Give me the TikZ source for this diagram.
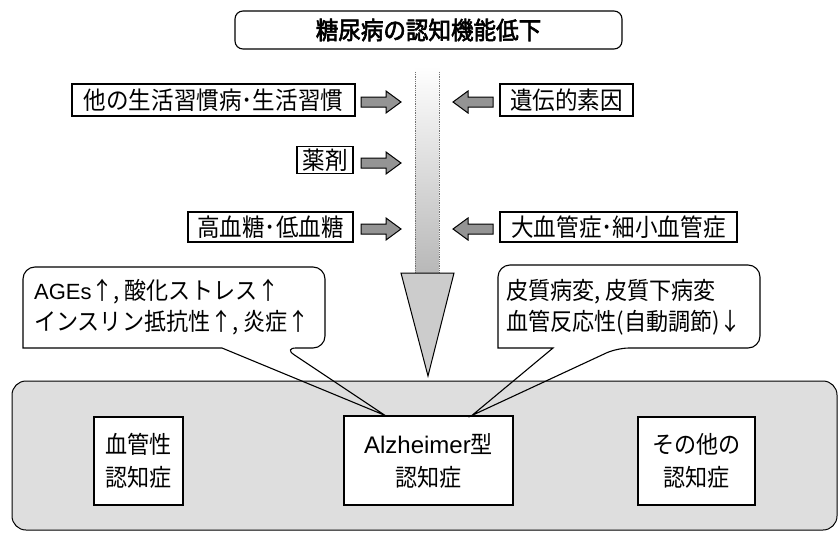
\documentclass[tikz,border=0pt]{standalone}
\usepackage{fontspec}
\setmainfont[FakeStretch=0.92]{Noto Sans CJK JP}
\newfontfamily\titlefont[FakeBold=2.5,FakeStretch=0.92]{Noto Sans CJK JP}
\newfontfamily\lat{Liberation Sans}
\usetikzlibrary{calc}
\tikzset{
  bx/.style={draw, line width=1.1pt, fill=white, inner sep=0pt, font=\fontsize{24.5}{27}\selectfont},
  dbox/.style={draw, line width=1.2pt, fill=white, inner sep=0pt, align=center, font=\fontsize{24}{33}\selectfont},
  blockarrow/.pic={\draw[line width=1pt, fill=black!42, line join=miter] (-20,-5) -- (5,-5) -- (5,-11) -- (20,0) -- (5,11) -- (5,5) -- (-20,5) -- cycle;},
  ctext/.style={align=left, inner sep=0pt, font=\fontsize{24}{31}\selectfont},
  panelbox/.style={draw, line width=1pt, fill=black!13, rounded corners=14pt, minimum width=825pt, minimum height=149pt, inner sep=0pt},
  lcall/.style={insert path={(ltip) -- (222,348) -- (23,348) [rounded corners=12pt] -- (23,267) -- (325,267) -- (325,348) -- (284,348) [sharp corners] -- cycle}},
  rcall/.style={insert path={(rtip) -- (553,348) -- (498,348) [rounded corners=12pt] -- (498,265) -- (760,265) -- (760,348) -- (617,348) [sharp corners] -- cycle}},
}
\begin{document}
\begin{tikzpicture}[x=1pt,y=-1pt]
\useasboundingbox (0,0) rectangle (839,533);
\fill[white] (0,0) rectangle (839,533);

% title
\node[bx, rounded corners=8pt, minimum width=387pt, minimum height=38pt, font=\titlefont\fontsize{24.5}{26}\selectfont] (title) at (428.5,30) {糖尿病の認知機能低下};

% factor boxes
\node[bx, minimum width=283pt, minimum height=32pt] (life) at (213.5,100) {他の生活習慣病･生活習慣};
\node[bx, minimum width=133pt, minimum height=32pt] (gene) at (566.5,100) {遺伝的素因};
\node[bx, minimum width=56pt, minimum height=27pt] (drug) at (325,160) {薬剤};
\node[bx, minimum width=165pt, minimum height=30pt] (glyc) at (270.5,227) {高血糖･低血糖};
\node[bx, minimum width=237pt, minimum height=30pt] (vasc) at (618.5,227) {大血管症･細小血管症};

% small block arrows
\pic (a1) at (381,102) {blockarrow};
\pic (a2) at (381,163) {blockarrow};
\pic (a3) at (381,229) {blockarrow};
\pic[xscale=-1] (a4) at (473,102) {blockarrow};
\pic[xscale=-1] (a5) at (473,229) {blockarrow};

% big arrow
\shade[top color=white, bottom color=black!28] (415,66) rectangle (439,274);
\draw[black!55, densely dotted, line width=0.8pt] (415,72) -- (415,273) (439,72) -- (439,273);
\draw[line width=1pt, fill=black!20, line join=miter] (401,273) -- (454,273) -- (428,376) -- cycle;

% bottom panel and boxes
\node[panelbox] (panel) at (424.5,455.5) {};
\node[dbox, minimum width=89pt, minimum height=88pt] (vd) at (138.5,461) {血管性\\認知症};
\node[dbox, minimum width=169pt, minimum height=89pt] (ad) at (428.5,460.5) {{\lat\fontsize{24}{33}\selectfont Alzheimer}型\\認知症};
\node[dbox, minimum width=117pt, minimum height=88pt] (od) at (696.5,461) {その他の\\認知症};

\coordinate (ltip) at ($(ad.north)+(-43.5,0)$);
\coordinate (rtip) at ($(ad.north)+(43.5,0)$);

% callouts
\begin{scope}
  \clip (0,0) rectangle (839,379.6);
  \fill[white, lcall];
  \fill[white, rcall];
\end{scope}
\draw[line width=1.1pt, lcall];
\draw[line width=1.1pt, rcall];

\node[ctext, anchor=west] (lc) at (34,307) {{\lat\fontsize{22}{31}\selectfont AGEs}↑, 酸化ストレス↑\\インスリン抵抗性↑, 炎症↑};
\node[ctext, anchor=west] (rc) at (506,307) {皮質病変, 皮質下病変\\血管反応性(自動調節)↓};
\end{tikzpicture}
\end{document}
